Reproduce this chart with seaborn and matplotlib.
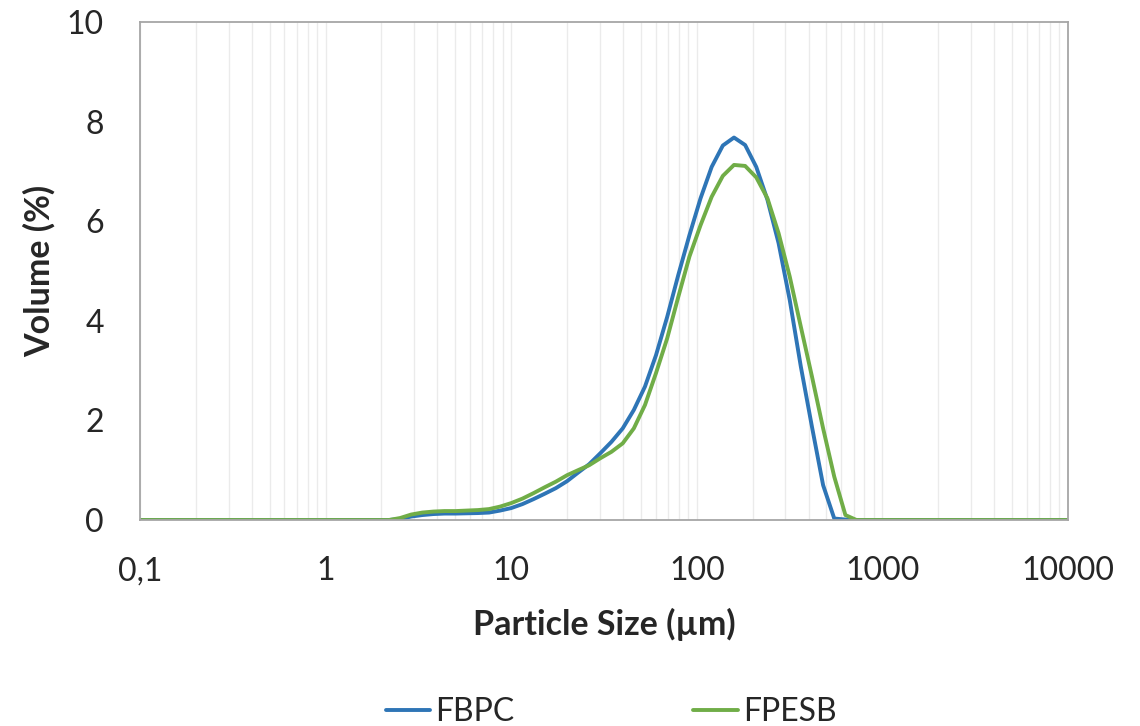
import numpy as np
import pandas as pd
import matplotlib
matplotlib.use("Agg")
import matplotlib.pyplot as plt
from matplotlib.ticker import LogLocator, FixedLocator, NullFormatter
import seaborn as sns

# particle size classes (um)
sizes = [0.1, 1.0, 2.19, 2.52, 2.89, 3.32, 3.81, 4.37, 5.02, 5.76, 6.62, 7.60, 8.72,
         10.0, 11.5, 13.2, 15.2, 17.4, 20.0, 22.9, 26.3, 30.2, 34.7, 39.9, 45.8,
         52.6, 60.3, 69.3, 79.5, 91.3, 104.8, 120.3, 138.2, 158.7, 182.2, 209.2,
         240.3, 275.9, 316.8, 363.7, 417.6, 479.5, 550.6, 632.2, 725.9, 1000.0, 10000.0]

fbpc = [0, 0, 0, 0.02, 0.07, 0.10, 0.12, 0.13, 0.13, 0.135, 0.14, 0.15, 0.19,
        0.24, 0.32, 0.42, 0.53, 0.64, 0.78, 0.95, 1.12, 1.34, 1.57, 1.84, 2.21,
        2.68, 3.31, 4.08, 4.92, 5.72, 6.46, 7.09, 7.52, 7.68, 7.53, 7.09,
        6.43, 5.56, 4.42, 3.08, 1.87, 0.70, 0.03, 0.01, 0, 0, 0]

fpesb = [0, 0, 0, 0.04, 0.11, 0.15, 0.17, 0.18, 0.18, 0.19, 0.20, 0.22, 0.27,
         0.34, 0.43, 0.54, 0.66, 0.77, 0.90, 1.00, 1.10, 1.24, 1.37, 1.54, 1.84,
         2.31, 2.95, 3.65, 4.48, 5.29, 5.92, 6.49, 6.91, 7.13, 7.11, 6.88,
         6.46, 5.76, 4.89, 3.88, 2.88, 1.84, 0.87, 0.10, 0, 0, 0]

series = ["FBPC", "FPESB"]
colors = ["#2E75B6", "#70AD47"]
x_ticks = [0.1, 1, 10, 100, 1000, 10000]
x_ticklabels = ["0,1", "1", "10", "100", "1000", "10000"]
y_ticks = [0, 2, 4, 6, 8, 10]

df = pd.DataFrame({
    "size": sizes * 2,
    "volume": fbpc + fpesb,
    "sample": [series[0]] * len(sizes) + [series[1]] * len(sizes),
})

sns.set_style("white")
plt.rcParams["font.family"] = ["Lato", "DejaVu Sans"]

fig = plt.figure(figsize=(11.4, 7.26), dpi=100)
ax = fig.add_axes([0.1228, 0.2837, 0.8140, 0.6860])

sns.lineplot(data=df, x="size", y="volume", hue="sample", palette=colors,
             linewidth=2.8, ax=ax, sort=False, legend=True)

ax.set_xscale("log")
ax.set_xlim(0.1, 10000)
ax.set_ylim(0, 10)

ax.xaxis.set_major_locator(FixedLocator(x_ticks))
ax.set_xticklabels(x_ticklabels)
ax.xaxis.set_minor_locator(LogLocator(base=10, subs=np.arange(2, 10)))
ax.xaxis.set_minor_formatter(NullFormatter())
ax.set_yticks(y_ticks)

ax.grid(True, axis="x", which="both", color="#EBEBEB", linewidth=1.0)
ax.grid(False, axis="y")
ax.set_axisbelow(True)

for sp in ax.spines.values():
    sp.set_color("#A6A6A6")
    sp.set_linewidth(1.3)

ax.tick_params(axis="x", which="both", direction="in", length=7.5, width=1.2,
               color="#A6A6A6", labelsize=23, pad=26)
ax.tick_params(axis="y", length=0, labelsize=23, pad=26)

ax.set_xlabel("Particle Size (µm)", fontsize=24.5, fontweight="bold", labelpad=16)
ax.set_ylabel("Volume (%)", fontsize=24.5, fontweight="bold", labelpad=8)

handles, labels = ax.get_legend_handles_labels()
ax.legend_.remove()
fig.legend(handles, labels, loc="center", bbox_to_anchor=(0.536, 0.019),
           ncol=2, frameon=False, fontsize=23, handlelength=1.4,
           handletextpad=0.15, columnspacing=5.6)

fig.savefig("out.png", dpi=100)
